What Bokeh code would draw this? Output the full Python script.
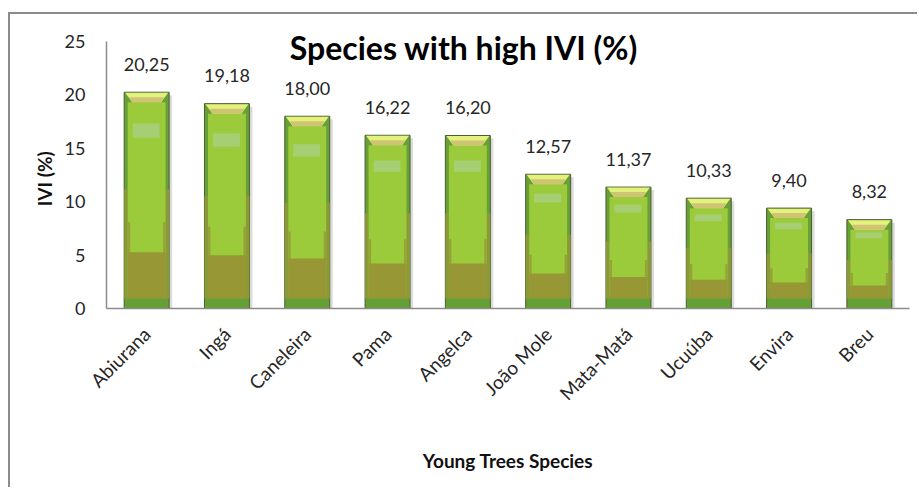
import math
from bokeh.plotting import figure
from bokeh.models import Range1d, FixedTicker, Label, ColumnDataSource
from bokeh.core.properties import value
from bokeh.embed import file_html
from bokeh.resources import INLINE

# ---- data ----
species = ["Abiurana", "Ingá", "Caneleira", "Pama", "Angelca",
           "João Mole", "Mata-Matá", "Ucuúba", "Envira", "Breu"]
ivi = [20.25, 19.18, 18.00, 16.22, 16.20, 12.57, 11.37, 10.33, 9.40, 8.32]
y_ticks = [0, 5, 10, 15, 20, 25]
title_text = "Species with high IVI (%)"
x_title = "Young Trees Species"
y_title = "IVI (%)"

FONT = "Lato"
W, H = 909, 475
ML, MR, MT, MB = 96, 10, 16, 181
n = len(species)
YPX = 267 / 25                       # px per y unit (axis 0..25 spans 267 px)
YTOP = (H - MT - MB) / YPX
XPX = (W - ML - MR) / n

p = figure(width=W, height=H, output_backend="svg", toolbar_location=None,
           x_range=Range1d(0, n), y_range=Range1d(0, YTOP),
           min_border_left=ML, min_border_right=MR,
           min_border_top=MT, min_border_bottom=MB)
p.outline_line_color = None
p.xgrid.visible = False
p.ygrid.visible = False
p.background_fill_color = "#ffffff"
p.border_fill_color = "#ffffff"
p.styles = {"margin-left": "8px", "margin-top": "12px",
            "border-top": "2px solid #8c8c8c", "border-left": "2px solid #8c8c8c"}

centers = [i + 0.5 for i in range(n)]
hw = 0.28
ex = 3.5 / XPX
bev = 10 / YPX

def quad(l, r, b, t, **kw):
    p.quad(left=l, right=r, bottom=b, top=t, **kw)

L = [c - hw for c in centers]
R = [c + hw for c in centers]
# shadow
quad([l + 3 / XPX for l in L], [r + 3 / XPX for r in R], [0] * n,
     [v - 3 / YPX for v in ivi], fill_color="#b0b0b0", fill_alpha=0.45, line_color=None)
# outer body
quad(L, R, [0] * n, ivi, fill_color="#66A036", line_color="#4F5A33", line_width=1)
# lower side tint
quad(L, [l + ex for l in L], [bev] * n, [0.55 * v for v in ivi],
     fill_color="#8A9A38", line_color=None)
quad([r - ex for r in R], R, [bev] * n, [0.55 * v for v in ivi],
     fill_color="#8A9A38", line_color=None)
# inner light green
IL = [l + ex for l in L]
IR = [r - ex for r in R]
quad(IL, IR, [bev] * n, [v - bev for v in ivi], fill_color="#9BCA3A", line_color=None)
# olive lower part (U-shape)
quad(IL, [l + 2.5 / XPX for l in IL], [bev] * n, [0.40 * v for v in ivi],
     fill_color="#97A336", line_color=None)
quad([r - 2.5 / XPX for r in IR], IR, [bev] * n, [0.40 * v for v in ivi],
     fill_color="#97A336", line_color=None)
quad(IL, IR, [bev] * n, [0.26 * v for v in ivi], fill_color="#979835", line_color=None)
# bottom bevel
xs_b, ys_b = [], []
for l, r in zip(L, R):
    xs_b.append([l + 1 / XPX, r - 1 / XPX, r - ex, l + ex])
    ys_b.append([0.05, 0.05, bev, bev])
p.patches(xs_b, ys_b, fill_color="#64A035", line_color=None)
# top bevel
xs_t, ys_t, xs_t2, ys_t2 = [], [], [], []
for l, r, v in zip(L, R, ivi):
    xs_t.append([l + 1 / XPX, r - 1 / XPX, r - 8 / XPX, l + 8 / XPX])
    ys_t.append([v - 0.05, v - 0.05, v - bev, v - bev])
    xs_t2.append([l + 5 / XPX, r - 5 / XPX, r - 8 / XPX, l + 8 / XPX])
    ys_t2.append([v - 5 / YPX, v - 5 / YPX, v - bev, v - bev])
p.patches(xs_t, ys_t, fill_color="#E4F27C", line_color=None)
p.patches(xs_t2, ys_t2, fill_color="#CFC474", line_color=None)
# highlight
quad([l + 8.5 / XPX for l in L], [r - 9.5 / XPX for r in R],
     [0.79 * v for v in ivi], [0.855 * v for v in ivi],
     fill_color="#A6CF74", line_color=None)

# value labels
src = ColumnDataSource(dict(x=centers, y=ivi,
                            t=[f"{v:.2f}".replace(".", ",") for v in ivi]))
p.text(x="x", y="y", text="t", source=src, text_align="center",
       text_baseline="alphabetic", y_offset=-28,
       text_font=value(FONT), text_font_size="18px", text_color="#262626")

# axes
p.xaxis.ticker = FixedTicker(ticks=centers)
p.xaxis.major_label_overrides = {c: s for c, s in zip(centers, species)}
p.xaxis.major_label_orientation = math.pi / 4
p.yaxis.ticker = FixedTicker(ticks=y_ticks)
p.yaxis.bounds = (y_ticks[0], y_ticks[-1])
for ax in (p.xaxis, p.yaxis):
    ax.axis_line_color = "#8c8c8c"
    ax.axis_line_width = 1.5
    ax.major_tick_line_color = None
    ax.minor_tick_line_color = None
    ax.major_tick_out = 0
    ax.major_tick_in = 0
    ax.major_label_text_font = FONT
    ax.major_label_text_color = "#262626"
    ax.axis_label_text_font = FONT
    ax.axis_label_text_font_style = "bold"
    ax.axis_label_text_color = "#111111"
p.yaxis.major_label_text_font_size = "18px"
p.yaxis.major_label_standoff = 21
p.xaxis.major_label_text_font_size = "19px"
p.xaxis.major_label_standoff = 22
p.xaxis.axis_label = x_title
p.xaxis.axis_label_text_font_size = "19px"
p.xaxis.axis_label_standoff = 34
p.yaxis.axis_label = y_title + "\u00a0" * 4
p.yaxis.axis_label_text_font_size = "19px"
p.yaxis.axis_label_standoff = 6

p.add_layout(Label(x=4.45, y=24.45, text=title_text, text_align="center",
                   text_baseline="middle", text_font=FONT, text_font_style="bold",
                   text_font_size="32px", text_color="#000000"))

open("out.html", "w").write(file_html(p, INLINE))
